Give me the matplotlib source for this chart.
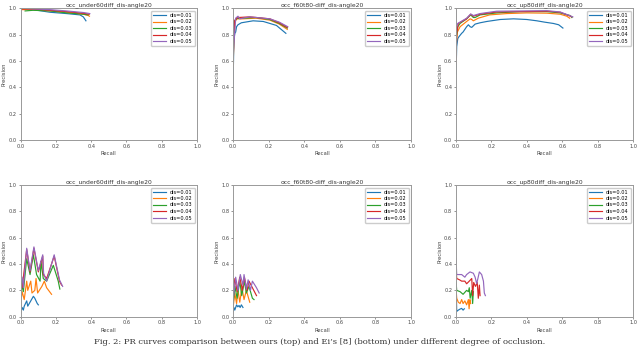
import matplotlib
matplotlib.use("Agg")
import matplotlib.pyplot as plt

# legend labels / colours
labels = ["dis=0.01", "dis=0.02", "dis=0.03", "dis=0.04", "dis=0.05"]
colors = ["#1f77b4", "#ff7f0e", "#2ca02c", "#d62728", "#9467bd"]

titles_top = ["occ_under60diff_dis-angle20", "occ_f60t80-diff_dis-angle20", "occ_up80diff_dis-angle20"]
titles_bottom = titles_top

# ---- top row: (recall, precision) per dis ----
under60_top = [
    ([0.01, 0.07, 0.166, 0.26, 0.336, 0.355, 0.37], [1.0, 0.99, 0.97, 0.96, 0.95, 0.935, 0.905]),
    ([0.005, 0.07, 0.166, 0.26, 0.355, 0.383, 0.39], [0.99, 0.99, 0.98, 0.97, 0.955, 0.945, 0.94]),
    ([0.025, 0.07, 0.166, 0.26, 0.355, 0.383], [0.98, 0.985, 0.98, 0.965, 0.955, 0.95]),
    ([0.01, 0.07, 0.166, 0.26, 0.355, 0.389], [0.995, 0.995, 0.985, 0.975, 0.962, 0.955]),
    ([0.015, 0.07, 0.166, 0.26, 0.355, 0.392], [1.0, 0.995, 0.99, 0.98, 0.968, 0.96]),
]
f60t80_top = [
    ([0.0, 0.005, 0.01, 0.015, 0.02, 0.028, 0.047, 0.113, 0.17, 0.244, 0.297],
     [0.4, 0.76, 0.81, 0.82, 0.86, 0.875, 0.89, 0.905, 0.9, 0.87, 0.81]),
    ([0.0, 0.01, 0.02, 0.056, 0.13, 0.207, 0.26, 0.305],
     [0.56, 0.89, 0.92, 0.92, 0.925, 0.91, 0.88, 0.84]),
    ([0.0, 0.008, 0.02, 0.056, 0.13, 0.207, 0.26, 0.305],
     [0.6, 0.9, 0.922, 0.925, 0.93, 0.915, 0.885, 0.85]),
    ([0.0, 0.01, 0.028, 0.094, 0.207, 0.26, 0.305],
     [0.68, 0.91, 0.93, 0.935, 0.92, 0.89, 0.855]),
    ([0.0, 0.015, 0.028, 0.038, 0.094, 0.207, 0.26, 0.308],
     [0.62, 0.925, 0.94, 0.92, 0.935, 0.92, 0.895, 0.86]),
]
up80_top = [
    ([0.0, 0.004, 0.01, 0.017, 0.032, 0.04, 0.06, 0.07, 0.08, 0.089, 0.108, 0.136, 0.174, 0.25,
      0.325, 0.4, 0.457, 0.5, 0.55, 0.58, 0.604],
     [0.5, 0.71, 0.77, 0.785, 0.81, 0.82, 0.86, 0.875, 0.86, 0.855, 0.88, 0.89, 0.9, 0.915,
      0.92, 0.915, 0.905, 0.895, 0.885, 0.875, 0.85]),
    ([0.0, 0.008, 0.023, 0.06, 0.08, 0.089, 0.098, 0.126, 0.19, 0.287, 0.4, 0.513, 0.589, 0.626, 0.642],
     [0.71, 0.82, 0.86, 0.9, 0.92, 0.915, 0.905, 0.925, 0.95, 0.96, 0.965, 0.963, 0.955, 0.94, 0.925]),
    ([0.0, 0.01, 0.023, 0.06, 0.083, 0.098, 0.108, 0.136, 0.23, 0.362, 0.513, 0.589, 0.645, 0.655],
     [0.76, 0.86, 0.885, 0.92, 0.95, 0.93, 0.93, 0.95, 0.965, 0.975, 0.975, 0.965, 0.945, 0.93]),
    ([0.0, 0.004, 0.013, 0.06, 0.083, 0.098, 0.136, 0.23, 0.513, 0.589, 0.655],
     [0.58, 0.81, 0.885, 0.92, 0.955, 0.94, 0.955, 0.972, 0.978, 0.97, 0.935]),
    ([0.0, 0.0, 0.003, 0.01, 0.06, 0.083, 0.098, 0.136, 0.23, 0.513, 0.589, 0.66],
     [1.0, 0.7, 0.86, 0.885, 0.925, 0.957, 0.945, 0.96, 0.978, 0.982, 0.972, 0.935]),
]

# ---- bottom row ----
under60_bottom = [
    ([0.0, 0.008, 0.015, 0.02, 0.034, 0.04, 0.072, 0.08, 0.094, 0.1],
     [0.03, 0.07, 0.05, 0.08, 0.12, 0.08, 0.155, 0.14, 0.1, 0.09]),
    ([0.0, 0.008, 0.02, 0.034, 0.04, 0.057, 0.064, 0.08, 0.087, 0.096, 0.12, 0.134, 0.147, 0.175],
     [0.1, 0.19, 0.13, 0.27, 0.2, 0.27, 0.18, 0.2, 0.29, 0.18, 0.23, 0.27, 0.22, 0.17]),
    ([0.0, 0.006, 0.015, 0.034, 0.053, 0.072, 0.09, 0.11, 0.115, 0.128, 0.147, 0.185, 0.213, 0.222],
     [0.06, 0.25, 0.19, 0.44, 0.32, 0.47, 0.32, 0.27, 0.42, 0.29, 0.27, 0.39, 0.27, 0.21]),
    ([0.002, 0.008, 0.034, 0.053, 0.075, 0.1, 0.125, 0.128, 0.147, 0.19, 0.22, 0.232],
     [0.27, 0.22, 0.51, 0.34, 0.52, 0.34, 0.46, 0.32, 0.29, 0.46, 0.27, 0.24]),
    ([0.0, 0.0, 0.008, 0.015, 0.034, 0.053, 0.075, 0.1, 0.125, 0.13, 0.147, 0.19, 0.22, 0.238],
     [1.0, 0.3, 0.3, 0.22, 0.52, 0.35, 0.53, 0.35, 0.47, 0.33, 0.27, 0.47, 0.28, 0.23]),
]
f60t80_bottom = [
    ([0.0, 0.005, 0.01, 0.02, 0.027, 0.034, 0.04, 0.047, 0.056],
     [0.04, 0.07, 0.05, 0.09, 0.075, 0.085, 0.07, 0.09, 0.07]),
    ([0.0, 0.01, 0.02, 0.028, 0.038, 0.05, 0.062, 0.075, 0.094],
     [0.06, 0.18, 0.1, 0.2, 0.11, 0.22, 0.13, 0.2, 0.11]),
    ([0.0, 0.011, 0.023, 0.038, 0.049, 0.064, 0.075, 0.09, 0.109, 0.118],
     [0.09, 0.23, 0.14, 0.27, 0.16, 0.27, 0.18, 0.23, 0.14, 0.13]),
    ([0.0, 0.011, 0.023, 0.038, 0.053, 0.064, 0.079, 0.09, 0.109, 0.132],
     [0.19, 0.29, 0.19, 0.3, 0.2, 0.3, 0.2, 0.27, 0.22, 0.16]),
    ([0.0, 0.004, 0.015, 0.028, 0.041, 0.056, 0.062, 0.075, 0.085, 0.098, 0.109, 0.132, 0.147],
     [0.24, 0.16, 0.3, 0.2, 0.32, 0.24, 0.32, 0.21, 0.28, 0.2, 0.27, 0.22, 0.18]),
]
up80_bottom = [
    ([0.002, 0.003, 0.004, 0.013, 0.023, 0.032, 0.04, 0.047],
     [0.17, 0.1, 0.04, 0.05, 0.058, 0.063, 0.05, 0.06]),
    ([0.0, 0.004, 0.013, 0.023, 0.032, 0.04, 0.05, 0.06, 0.07, 0.074, 0.079, 0.083],
     [0.22, 0.14, 0.11, 0.1, 0.13, 0.1, 0.12, 0.09, 0.13, 0.06, 0.13, 0.1]),
    ([0.0, 0.004, 0.023, 0.04, 0.06, 0.07, 0.075, 0.08, 0.089, 0.094, 0.098],
     [0.27, 0.2, 0.19, 0.17, 0.2, 0.19, 0.22, 0.14, 0.2, 0.1, 0.19]),
    ([0.0, 0.004, 0.02, 0.032, 0.05, 0.06, 0.075, 0.089, 0.094, 0.1, 0.11, 0.12, 0.126, 0.132, 0.136],
     [0.37, 0.29, 0.28, 0.27, 0.27, 0.25, 0.27, 0.29, 0.16, 0.26, 0.23, 0.26, 0.14, 0.24, 0.16]),
    ([0.0, 0.004, 0.02, 0.032, 0.05, 0.06, 0.079, 0.098, 0.108, 0.117, 0.132, 0.145, 0.155, 0.16, 0.166],
     [0.44, 0.32, 0.32, 0.32, 0.3, 0.32, 0.34, 0.33, 0.3, 0.25, 0.34, 0.32, 0.27, 0.18, 0.16]),
]

caption = ("Fig. 2: PR curves comparison between ours (top) and Ei\u2019s [8] (bottom) "
           "under different degree of occlusion.")

W, H = 640, 348
fig = plt.figure(figsize=(6.4, 3.48), dpi=100)

# axes boxes in pixels: left, right for each column; top, bottom for each row
cols = [(20.7, 197), (233, 411), (456, 633)]
rows = [(8.3, 140), (185, 316.7)]

panels = [
    (0, 0, titles_top[0], under60_top),
    (0, 1, titles_top[1], f60t80_top),
    (0, 2, titles_top[2], up80_top),
    (1, 0, titles_bottom[0], under60_bottom),
    (1, 1, titles_bottom[1], f60t80_bottom),
    (1, 2, titles_bottom[2], up80_bottom),
]

for r, c, title, series in panels:
    x0, x1 = cols[c]
    y0, y1 = rows[r]
    ax = fig.add_axes([x0 / W, 1 - y1 / H, (x1 - x0) / W, (y1 - y0) / H])
    for (rec, prec), lab, col in zip(series, labels, colors):
        ax.plot(rec, prec, color=col, lw=0.85, label=lab)
    ax.set_xlim(0, 1)
    ax.set_ylim(0, 1)
    ax.set_xticks([0, 0.2, 0.4, 0.6, 0.8, 1.0])
    ax.set_yticks([0, 0.2, 0.4, 0.6, 0.8, 1.0])
    ax.tick_params(labelsize=3.6, length=1.5, width=0.4, pad=1.2, colors="#444444")
    for s in ax.spines.values():
        s.set_color("#999999")
        s.set_linewidth(0.7)
    ax.set_title(title, fontsize=4.3, pad=1.5, color="#333333")
    ax.set_xlabel("Recall", fontsize=3.8, labelpad=1.5, color="#444444")
    ax.set_ylabel("Precision", fontsize=3.8, labelpad=1.5, color="#444444")
    ax.legend(loc="upper right", fontsize=3.6, handlelength=2.5, borderpad=0.4,
              labelspacing=0.3, framealpha=1, edgecolor="#cccccc")

fig.text(0.5, 1 - 342 / H, caption, ha="center", va="center",
         fontsize=6, family="DejaVu Serif", color="#333333")

fig.savefig("out.png", dpi=100)
